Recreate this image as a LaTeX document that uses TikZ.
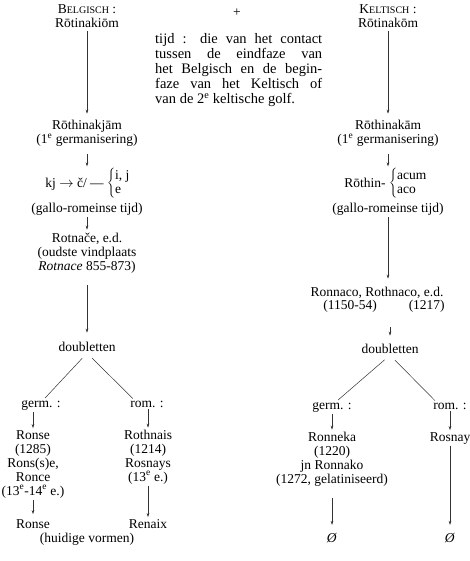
\documentclass[tikz,border=0pt]{standalone}
\usepackage{fontspec}
\setmainfont{Liberation Serif}
\usetikzlibrary{arrows.meta,calc}
\newcommand\fs{\fontsize{13.5}{14}\selectfont}
\newcommand\scc[1]{{\fontsize{10}{10}\selectfont #1}}
\newcommand\brc[1]{$\left\{\mbox{\begin{tabular}{@{}l@{}}#1\end{tabular}}\right.$}
\begin{document}
\begin{tikzpicture}[x=1pt,y=-1pt,
  txt/.style={inner sep=0pt, outer sep=2pt, align=center, font=\fs, anchor=base},
  arr/.style={draw=black!80, line width=0.5pt, -{Stealth[length=4pt,width=2.6pt]}},
  ln/.style={draw=black!80, line width=0.5pt}]
\useasboundingbox (0,0) rectangle (470,561);
% top (base anchor = last line)
\node[txt] (topL) at (87,28) {B\scc{ELGISCH} :\\Rōtinakiōm};
\node[txt] (topR) at (388,28) {K\scc{ELTISCH} :\\Rōtinakōm};
\node[txt] (plus) at (237,17) {+};
\node[inner sep=0pt, anchor=base west, text width=167pt, align=justify, font=\fontsize{14.5}{15}\selectfont] (tijd) at (155,44)
 {\hangindent=15pt\hangafter=1 tijd : die van het contact\linebreak
  tussen de eindfaze van\linebreak
  het Belgisch en de begin-\linebreak
  faze van het Keltisch of\linebreak
  van de 2\textsuperscript{e} keltische golf.};
% left column
\node[txt] (n2L) at (87,144) {Rōthinakjām\\(1\textsuperscript{e} germanisering)};
\node[txt] (kjL) at (88,187) {kj $\rightarrow$ č/ — \brc{i, j\\e}};
\node[txt] (galloL) at (87,212) {(gallo-romeinse tijd)};
\node[txt] (rotL) at (87,270) {Rotnače, e.d.\\(oudste vindplaats\\\textit{Rotnace} 855-873)};
\node[txt] (dblL) at (87,351) {doubletten};
\node[txt] (germL) at (41,407) {germ. :};
\node[txt] (romL) at (147,407) {rom. :};
\node[txt] (ronseL) at (33,495) {Ronse\\(1285)\\Rons(s)e,\\Ronce\\(13\textsuperscript{e}-14\textsuperscript{e} e.)};
\node[txt] (ronse2L) at (33,528) {Ronse};
\node[txt] (huidL) at (87,542) {(huidige vormen)};
\node[txt] (rothL) at (148,481) {Rothnais\\(1214)\\Rosnays\\(13\textsuperscript{e} e.)};
\node[txt] (renaixL) at (148,528) {Renaix};
% right column
\node[txt] (n2R) at (388,144) {Rōthinakām\\(1\textsuperscript{e} germanisering)};
\node[txt] (rothinR) at (386,187) {Rōthin- \brc{acum\\aco}};
\node[txt] (galloR) at (388,212) {(gallo-romeinse tijd)};
\node[txt] (ronR) at (377,296) {Ronnaco, Rothnaco, e.d.};
\node[txt] (yrsR) at (384,309) {(1150-54)\hspace{32pt}(1217)};
\node[txt] (dblR) at (390,353) {doubletten};
\node[txt] (germR) at (332,409) {germ. :};
\node[txt] (romR) at (450,409) {rom. :};
\node[txt] (ronnekaR) at (332,483) {Ronneka\\(1220)\\jn Ronnako\\(1272, gelatiniseerd)};
\node[txt] (nullR1) at (332,542) {\textit{Ø}};
\node[txt] (rosnayR) at (450,441) {Rosnay};
\node[txt] (nullR2) at (450,542) {\textit{Ø}};
% connectors left
\draw[arr, shorten <=1pt, shorten >=5pt] (topL) -- (n2L);
\draw[arr, shorten <=5pt] (n2L) -- (kjL.north -| n2L);
\draw[arr, shorten >=1pt] (galloL) -- (rotL);
\draw[arr, shorten <=10pt, shorten >=7pt] (rotL) -- (dblL);
\draw[ln, shorten <=7pt] (dblL.south) -- ($(germL.north)+(4,0)$);
\draw[ln, shorten <=7pt] (dblL.south) -- ($(romL.north)+(-14,0)$);
\draw[arr] (ronseL |- germL.south) -- (ronseL.north);
\draw[arr] (rothL |- romL.south) -- (rothL.north);
\draw[arr, shorten >=3pt] (ronseL) -- (ronse2L);
\draw[arr] (rothL) -- (renaixL);
% connectors right
\draw[arr, shorten <=1pt, shorten >=5pt] (topR) -- (n2R);
\draw[arr, shorten <=5pt] (n2R) -- (rothinR.north -| n2R);
\draw[arr, shorten >=6pt] (galloR.south) -- (galloR.south |- ronR.north);
\draw[arr, shorten <=13pt, shorten >=6pt] (dblR |- yrsR.south) -- (dblR.north);
\draw[ln, shorten <=7pt] (dblR.south) -- ($(germR.north)+(6,0)$);
\draw[ln, shorten <=7pt] (dblR.south) -- ($(romR.north)+(-15,0)$);
\draw[arr] (ronnekaR |- germR.south) -- (ronnekaR.north);
\draw[arr] (rosnayR |- romR.south) -- (rosnayR.north);
\draw[arr, shorten <=10pt, shorten >=6pt] (ronnekaR) -- (nullR1);
\draw[arr, shorten >=6pt] (rosnayR) -- (nullR2);
\end{tikzpicture}
\end{document}
